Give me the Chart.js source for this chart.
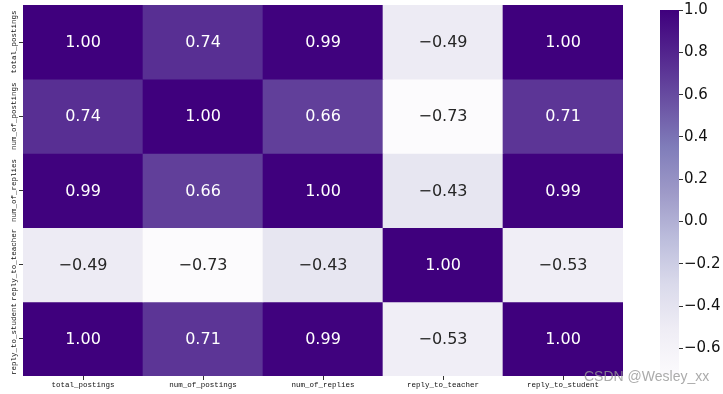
<!DOCTYPE html>
<html><head><meta charset="utf-8">
<script src="https://cdn.jsdelivr.net/npm/chart.js@4.4.0/dist/chart.umd.min.js"></script>
<style>
html,body{margin:0;padding:0;background:#fff;width:723px;height:394px;overflow:hidden;position:relative}
#main{position:absolute;left:0;top:0}
#cb{position:absolute;left:640px;top:0}
#wm{position:absolute;left:584px;top:368px;font:14px "Liberation Sans",Arial,sans-serif;color:rgba(150,150,150,0.8);white-space:nowrap}
</style></head><body>
<canvas id="main" width="640" height="394"></canvas>
<canvas id="cb" width="83" height="394"></canvas>
<div id="wm">CSDN @Wesley_xx</div>
<script>
// ---- data ----
const variables = ['total_postings','num_of_postings','num_of_replies','reply_to_teacher','reply_to_student'];
const row_total_postings   = [1.00, 0.74, 0.99, -0.49, 1.00];
const row_num_of_postings  = [0.74, 1.00, 0.66, -0.73, 0.71];
const row_num_of_replies   = [0.99, 0.66, 1.00, -0.43, 0.99];
const row_reply_to_teacher = [-0.49, -0.73, -0.43, 1.00, -0.53];
const row_reply_to_student = [1.00, 0.71, 0.99, -0.53, 1.00];
const colorbarTicks = [-0.6, -0.4, -0.2, 0.0, 0.2, 0.4, 0.6, 0.8, 1.0];
const vmin = -0.73, vmax = 1.0;

const matrix = [row_total_postings, row_num_of_postings, row_num_of_replies, row_reply_to_teacher, row_reply_to_student];

// Purples colormap
const purples = [
  [252,251,253],[239,237,245],[218,218,235],[188,189,220],[158,154,200],
  [128,125,186],[106,81,163],[84,39,143],[63,0,125]
];
function cmapRGB(v){
  let t = (v - vmin) / (vmax - vmin);
  t = Math.max(0, Math.min(1, t));
  const p = t * (purples.length - 1);
  const i = Math.min(Math.floor(p), purples.length - 2);
  const f = p - i;
  return purples[i].map((c,k)=> c + (purples[i+1][k]-c)*f);
}
function cmap(v){ const c = cmapRGB(v); return `rgb(${c.map(Math.round).join(',')})`; }
function lum(v){
  const c = cmapRGB(v).map(x=>{x/=255; return x<=0.03928? x/12.92 : Math.pow((x+0.055)/1.055,2.4);});
  return 0.2126*c[0]+0.7152*c[1]+0.0722*c[2];
}
const fmt = v => v.toFixed(2).replace('-', '\u2212');

const tickFontFamily = '"Liberation Mono", monospace';
const tickFontSize = 7.5;
const mctx = document.createElement('canvas').getContext('2d');
mctx.font = `${tickFontSize}px ${tickFontFamily}`;
const widest = Math.max(...variables.map(s => mctx.measureText(s).width));

const annot = {
  id: 'annot',
  afterDatasetsDraw(chart){
    const ctx = chart.ctx;
    ctx.save();
    ctx.font = '16px "DejaVu Sans", sans-serif';
    ctx.textAlign = 'center';
    ctx.textBaseline = 'middle';
    chart.data.datasets.forEach((ds, i) => {
      const meta = chart.getDatasetMeta(i);
      meta.data.forEach((bar, j) => {
        const v = ds.values[j];
        const p = bar.getProps(['x','y','base'], true);
        ctx.fillStyle = lum(v) > 0.408 ? '#262626' : '#ffffff';
        ctx.fillText(fmt(v), p.x, (p.y + p.base) / 2 + 1);
      });
    });
    ctx.restore();
  }
};

const datasets = matrix.map((row, i) => ({
  label: variables[i],
  data: row.map(() => [i, i + 1]),
  values: row,
  backgroundColor: row.map(v => cmap(v)),
  borderWidth: 0,
  barPercentage: 1,
  categoryPercentage: 1,
  grouped: false
}));

new Chart(document.getElementById('main'), {
  type: 'bar',
  data: { labels: variables, datasets },
  options: {
    responsive: false,
    animation: false,
    devicePixelRatio: 1,
    layout: { padding: { left: 0, top: 5, right: 17, bottom: 0 } },
    plugins: { legend: { display: false }, tooltip: { enabled: false } },
    scales: {
      x: {
        afterFit(s){ s.height = 18; },
        grid: { drawOnChartArea: false, tickLength: 4, tickColor: '#333', offset: false },
        border: { display: false },
        ticks: { autoSkip: false, maxRotation: 0, minRotation: 0, padding: 1, color: '#111',
                 font: { family: tickFontFamily, size: tickFontSize } }
      },
      y: {
        type: 'linear', min: 0, max: variables.length, reverse: true,
        afterBuildTicks(s){ s.ticks = variables.map((_, i) => ({ value: i + 0.5 })); },
        afterFit(s){ s.width = 23; },
        grid: { drawOnChartArea: false, tickLength: 4, tickColor: '#333' },
        border: { display: false },
        ticks: { autoSkip: false, minRotation: 90, maxRotation: 90, crossAlign: 'center',
                 padding: 5 - widest / 2, color: '#111',
                 font: { family: tickFontFamily, size: tickFontSize },
                 callback: v => variables[Math.floor(v)] }
      }
    }
  },
  plugins: [annot]
});

new Chart(document.getElementById('cb'), {
  type: 'bar',
  data: { labels: ['colorbar'], datasets: [{
    data: [[vmin, vmax]],
    backgroundColor: (c) => {
      const a = c.chart.chartArea;
      if (!a) return cmap(vmax);
      const g = c.chart.ctx.createLinearGradient(0, a.bottom, 0, a.top);
      purples.forEach((s, k) => g.addColorStop(k / (purples.length - 1), `rgb(${s.join(',')})`));
      return g;
    },
    borderWidth: 0, barPercentage: 1, categoryPercentage: 1
  }]},
  options: {
    responsive: false,
    animation: false,
    devicePixelRatio: 1,
    layout: { padding: { left: 20, top: 5, right: 0, bottom: 18 } },
    plugins: { legend: { display: false }, tooltip: { enabled: false } },
    scales: {
      x: { display: false },
      y: {
        position: 'right', min: vmin, max: vmax,
        afterBuildTicks(s){ s.ticks = colorbarTicks.map(v => ({ value: v })); },
        afterFit(s){ s.width = 44; },
        grid: { drawOnChartArea: false, tickLength: 4, tickColor: '#333' },
        border: { display: false },
        ticks: { autoSkip: false, padding: 1, color: '#111',
                 font: { family: '"DejaVu Sans", sans-serif', size: 15 },
                 callback: v => v.toFixed(1).replace('-', '\u2212') }
      }
    }
  }
});
</script>
</body></html>
